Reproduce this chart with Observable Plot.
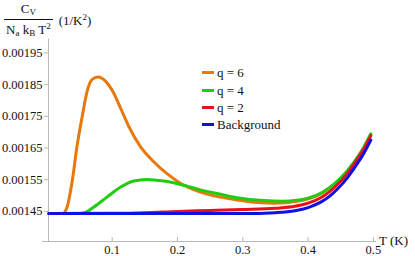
<!DOCTYPE html>
<html><head><meta charset="utf-8">
<script src="https://cdn.jsdelivr.net/npm/d3@7"></script>
<script src="https://cdn.jsdelivr.net/npm/@observablehq/plot@0.6"></script>
<style>
body{margin:0;background:#fff;}
#wrap{position:relative;width:415px;height:256px;font-family:"Liberation Serif","Times New Roman",Times,"DejaVu Serif","Noto Serif",serif;color:#111;}
.ov{position:absolute;white-space:nowrap;line-height:1;}
.leg div{height:17.4px;display:flex;align-items:center;font-size:13px;}
.leg span.sw{display:inline-block;width:12px;height:3px;margin-right:3px;}
svg text{font-family:"Liberation Serif","Times New Roman",Times,"DejaVu Serif","Noto Serif",serif;}
</style></head>
<body><div id="wrap"></div>
<script>
const seriesNames = ["q = 6", "q = 4", "q = 2", "Background"];
const seriesColors = ["#e8780a", "#22cc11", "#e8101a", "#1010e0"];

const tQ6 = [0.003,0.024,0.031,0.039,0.046,0.054,0.062,0.069,0.0786,0.0897,0.1,0.113,0.125,0.143,0.164,0.184,0.205,0.235,0.266,0.294,0.322,0.35,0.383,0.4,0.414,0.432,0.45,0.47,0.485,0.496];
const vQ6 = [0.001443,0.001443,0.001464,0.001548,0.001653,0.001748,0.001832,0.001866,0.001874,0.001861,0.001832,0.001775,0.00172,0.001655,0.001606,0.001569,0.001538,0.001511,0.001495,0.001485,0.001478,0.001476,0.001482,0.00149,0.0015,0.001522,0.001554,0.001603,0.00165,0.001693];

const tQ4 = [0.003,0.05,0.06,0.072,0.092,0.113,0.133,0.153,0.179,0.205,0.235,0.266,0.294,0.332,0.36,0.383,0.4,0.414,0.432,0.45,0.47,0.485,0.496];
const vQ4 = [0.001443,0.001443,0.001448,0.001464,0.001495,0.001527,0.001546,0.001551,0.001546,0.001535,0.001518,0.001504,0.001492,0.001484,0.001482,0.001485,0.001492,0.001502,0.001524,0.001556,0.001605,0.001652,0.001695];

const tQ2 = [0.003,0.1,0.15,0.2,0.25,0.3,0.35,0.38,0.4,0.42,0.434,0.4445,0.46,0.47,0.485,0.496];
const vQ2 = [0.001443,0.001444,0.001446,0.00145,0.001453,0.001456,0.00146,0.001466,0.001476,0.001494,0.001514,0.001534,0.00157,0.001599,0.001646,0.001689];

const tBg = [0.003,0.3,0.35,0.38,0.4,0.42,0.434,0.4445,0.46,0.47,0.485,0.496];
const vBg = [0.001443,0.001443,0.001446,0.001452,0.001462,0.00148,0.0015,0.00152,0.001556,0.001585,0.001632,0.001675];

const xTicks = [0.1,0.2,0.3,0.4,0.5];
const yTicks = [0.00145,0.00155,0.00165,0.00175,0.00185,0.00195];

const xDomain = [0.0025, 0.505];
const yDomain = [0.001355, 0.002];

const series = [[tQ6,vQ6],[tQ4,vQ4],[tQ2,vQ2],[tBg,vBg]];
const rows = [];
series.forEach(([ts,vs],i)=>ts.forEach((t,j)=>rows.push({T:t,C:vs[j],s:seriesNames[i]})));

const W=415,H=256,mt=36.6,mb=15,ml=48,mr=38.8;
const chart = Plot.plot({
  width:W,height:H,marginTop:mt,marginBottom:mb,marginLeft:ml,marginRight:mr,
  style:{fontFamily:'"Liberation Serif","Times New Roman",Times,"DejaVu Serif",serif',fontSize:"12.5px",color:"#111",background:"#fff",overflow:"visible"},
  x:{domain:xDomain},
  y:{domain:yDomain},
  marks:[
    Plot.ruleX([xDomain[0]],{stroke:"#b8b8b8",strokeWidth:1,y1:yDomain[0],y2:yDomain[1],insetBottom:-2}),
    Plot.ruleY([yDomain[0]],{stroke:"#b8b8b8",strokeWidth:1,x1:xDomain[0],x2:xDomain[1],insetLeft:-6}),
    Plot.tickX(xTicks,{x:d=>d,stroke:"#b8b8b8",insetTop:H-mt-mb-4}),
    Plot.axisX({ticks:xTicks,tickSize:0,tickPadding:4,tickFormat:d3.format(".1f"),label:null,stroke:"#b8b8b8"}),
    Plot.axisY({ticks:yTicks,tickSize:4,tickPadding:2,tickFormat:d3.format(".5f"),label:null,stroke:"#b8b8b8"}),
    ...seriesNames.map((n,i)=>Plot.line(rows.filter(r=>r.s===n),{x:"T",y:"C",stroke:seriesColors[i],strokeWidth:3,curve:"monotone-x"}))
  ]
});
const wrap=document.getElementById("wrap");
wrap.appendChild(chart);

const lab=document.createElement("div");
lab.className="ov";
lab.style.cssText="left:4px;top:2px;font-size:13px;display:flex;align-items:center;";
lab.innerHTML='<div style="display:inline-flex;flex-direction:column;align-items:center;">'+
 '<div style="padding:0 2px 2px 2px;">C<sub style="font-size:9px;vertical-align:-2px;">V</sub></div>'+
 '<div style="border-top:1px solid #111;padding:2px 2px 0 2px;">N<sub style="font-size:9px;vertical-align:-2px;">a</sub> k<sub style="font-size:9px;vertical-align:-2px;">B</sub> T<sup style="font-size:9px;vertical-align:5px;">2</sup></div></div>'+
 '<span style="margin-left:6px;">(1/K<sup style="font-size:9px;vertical-align:5px;">2</sup>)</span>';
wrap.appendChild(lab);

const tl=document.createElement("div");
tl.className="ov";
tl.style.cssText="left:379px;top:234px;font-size:13px;";
tl.textContent="T (K)";
wrap.appendChild(tl);

const leg=document.createElement("div");
leg.className="ov leg";
leg.style.cssText="left:202px;top:64px;";
seriesNames.forEach((n,i)=>{
  const r=document.createElement("div");
  r.innerHTML='<span class="sw" style="background:'+seriesColors[i]+'"></span><span></span>';
  r.lastChild.textContent=n;
  leg.appendChild(r);
});
wrap.appendChild(leg);
</script></body></html>
